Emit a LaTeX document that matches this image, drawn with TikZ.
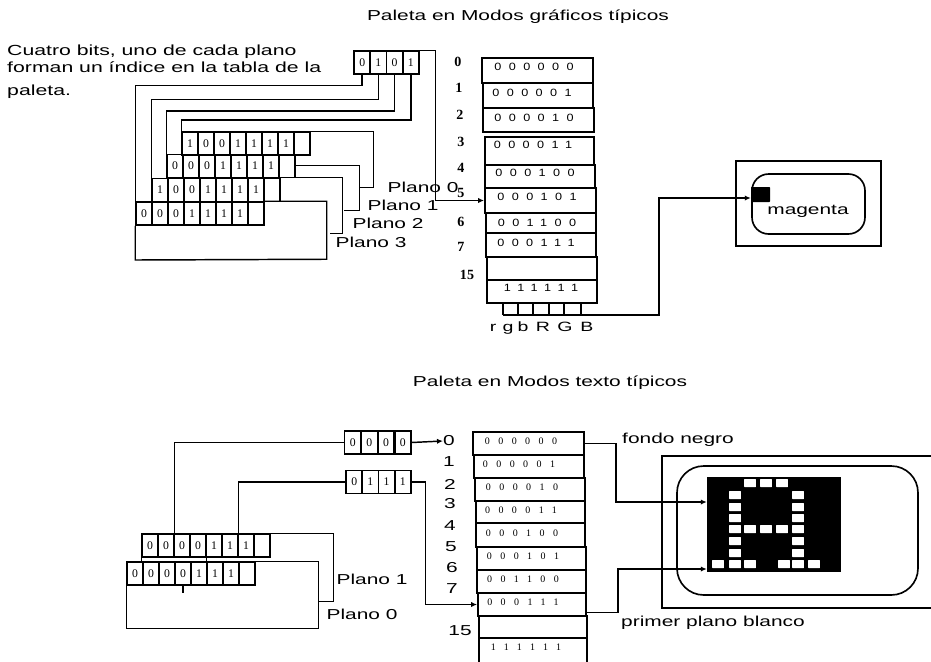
\documentclass[tikz,border=0pt]{standalone}
\usepackage{fontspec}
\setmainfont[FakeStretch=1.45]{Liberation Sans}
\newfontfamily\serifbits[LetterSpace=85]{Liberation Serif}
\newfontfamily\sansbits[LetterSpace=70,FakeStretch=1.2]{Liberation Sans}
\newfontfamily\regbits{Liberation Serif}
\usepackage{tikz}
\usetikzlibrary{arrows.meta}
\begin{document}
\begin{tikzpicture}[
  x=0.3mm,y=-0.3mm,
  font=\fontsize{12.3pt}{14pt}\selectfont,
  wire/.style={line width=1.25pt},
  feed/.style={line width=1.25pt,-{Latex[length=1.8mm,width=1.6mm]}},
  bit/.style={draw,line width=1.3pt,minimum width=4.8mm,minimum height=6.9mm,inner sep=0pt,font=\regbits\fontsize{10pt}{10pt}\selectfont},
  cell/.style={draw,line width=1.6pt,inner sep=0pt},
  tag/.style={inner sep=0pt,font=\fontsize{12.3pt}{14pt}\selectfont},
  idxs/.style={inner sep=0pt,font=\regbits\bfseries\fontsize{12pt}{12pt}\selectfont},
  pxl/.style={fill=white,rounded corners=0.3pt,minimum width=3.5mm,minimum height=2.4mm,inner sep=0pt}]
\useasboundingbox (0,0) rectangle (931,661);

\node[tag] (title1) at (518,17) {Paleta en Modos gráficos típicos};
\node[tag] (title2) at (550,383) {Paleta en Modos texto típicos};
\node[tag,anchor=north west,align=left,font=\fontsize{12.5pt}{14.5pt}\selectfont] (note) at (7,45) {Cuatro bits, uno de cada plano\\forman un índice en la tabla de la\\[5pt]paleta.};

% registro de la parte grafica
\foreach \i/\b in {1/0,2/1,3/0,4/1} \node[bit] (sel\i) at ({346+16.2*\i},62.5) {\b};

% cuatro planos
\foreach \i/\b in {1/1,2/0,3/0,4/1,5/1,6/1,7/1,8/{}} \node[bit] (pa\i) at ({174+16*\i},143.5) {\b};
\foreach \i/\b in {1/0,2/0,3/0,4/1,5/1,6/1,7/1,8/{}} \node[bit] (pb\i) at ({159+16*\i},166) {\b};
\foreach \i/\b in {1/1,2/0,3/0,4/1,5/1,6/1,7/1,8/{}} \node[bit] (pc\i) at ({144+16*\i},190) {\b};
\foreach \i/\b in {1/0,2/0,3/0,4/1,5/1,6/1,7/1,8/{}} \node[bit] (pd\i) at ({128+16*\i},213.5) {\b};

\draw[wire] (sel1.south) -- ++(0,11) -| (pd1.south west);
\draw[wire] (sel2.south) -- ++(0,25) -| (pc1.north west);
\draw[wire] (sel3.south) -- ++(0,36) -| (pb1.north west);
\draw[wire] (sel4.south) -- ++(0,45) -| (pa1.north west);

\draw[wire] (pa8.north east) -- ++(63,0) -- ++(0,56) -- ++(-14,0) coordinate (enda);
\draw[wire] (pb8.north east) ++(0,12) -- ++(64,0) -- ++(0,45) -- ++(-16,0) coordinate (endb);
\draw[wire] (pc8.north east) -- ++(62,0) -- ++(0,56) -- ++(-13,0) coordinate (endc);
\draw[wire] (pd8.north east) -- ++(62,0) -- ++(0,58) -- (pd1.west |- 0,260) -- (pd1.south west);

\node[tag] (pl0) at (423,187) {Plano 0};
\node[tag] (pl1) at (403,205) {Plano 1};
\node[tag] (pl2) at (388,223) {Plano 2};
\node[tag] (pl3) at (371,242) {Plano 3};

% paleta superior
\foreach \i/\l/\t/\r/\d/\tx/\ty/\v in {
  0/482/58/593/83/534/67/000000,1/483/83/593/108/532/93/000001,2/483/108/594/132/534/118/000010,
  3/485/137/594/165/533/145/000011,4/485/165/595/188/535/173/000100,5/485/188/596/213/537/197/000101,
  6/486/213/596/233/537/223/001100,7/486/233/596/257/536/243/000111,8/487/257/597/280/542/268/{},
  9/487/280/597/303/541/288/111111}{
  \node[cell,minimum width={(\r-\l)*0.3mm},minimum height={(\d-\t)*0.3mm}] (pal\i) at ({(\l+\r)/2},{(\t+\d)/2}) {};
  \node[inner sep=0pt,font=\sansbits\fontsize{9pt}{10pt}\selectfont] (palv\i) at (\tx,\ty) {\v};
}
\foreach \i/\xp/\yp/\n in {0/458/62/0,1/459/88/1,2/460/115/2,3/461/142/3,4/461/168/4,5/461/193/5,6/461/222/6,7/461/247/7,15/467/275/15}
  \node[idxs] (idx\i) at (\xp,\yp) {\n};

\draw[feed] (sel4.north east) -- ++(16,0) |- (pal5.west);

% salidas de color
\foreach \i/\xp/\lx/\n in {1/503/493/r,2/518/508/g,3/533/523/b,4/549/543/R,5/564/565/G,6/581/587/B}{
  \coordinate (out\i) at (\xp,303);
  \node[inner sep=0pt,anchor=base,font=\fontsize{11.5pt}{12pt}\selectfont] (rgb\i) at (\lx,331) {\n};
  \draw[wire,line width=1.6pt] (out\i) -- ++(0,12);
}
\draw[wire,line width=1.6pt] (out1) ++(0,12) -- ++(78,0);

% pantalla de arriba
\node[draw,line width=1.4pt,minimum width=43.5mm,minimum height=25.5mm] (mon) at (808.5,203.5) {};
\node[draw,line width=1.4pt,rounded corners=5mm,minimum width=33.9mm,minimum height=18mm] (scr) at (808.5,204) {};
\node[fill=black,rounded corners=0.5pt,minimum width=5.7mm,minimum height=4.5mm,inner sep=0pt] (dot) at (760.5,194.5) {};
\node[tag] (mag) at (808,211) {magenta};
\coordinate (dotin) at (dot.west |- 0,198);
\draw[feed] (out6) ++(0,12) -- ++(78,0) |- (dotin);

% parte de texto
\foreach \i/\b in {1/0,2/0,3/0,4/0} \node[bit] (regf\i) at ({336+16.7*\i},442.5) {\b};
\foreach \i/\b in {1/0,2/1,3/1,4/1} \node[bit] (regc\i) at ({338+16.2*\i},482) {\b};
\foreach \i/\b in {1/0,2/0,3/0,4/0,5/1,6/1,7/1,8/{}} \node[bit] (qa\i) at ({134+16*\i},545.5) {\b};
\foreach \i/\b in {1/0,2/0,3/0,4/0,5/1,6/1,7/1,8/{}} \node[bit] (qb\i) at ({119+16*\i},573.5) {\b};

\draw[wire] (regf1.west) -| (qa2.north east);
\draw[wire] (regc1.west) -| (qa6.north east);
\draw[wire] (qa8.north east) -- ++(63,0) -- ++(0,68) -- ++(-15,0) coordinate (endq);
\draw[wire] (qa1.south west) -- (qa1.west |- qb1.north) -| (qb8.north east) -- ++(63,0) -- ++(0,67) -| (qb1.south west);
\draw[wire] (qa4.south east) -- ++(0,5);
\draw[wire] (qb4.south) -- ++(0,7);

\node[tag] (qp1) at (372,579) {Plano 1};
\node[tag] (qp0) at (362,614) {Plano 0};

% paleta inferior
\foreach \i/\l/\t/\r/\d/\tx/\ty/\v in {
  0/473/432/584/455/521/441/000000,1/474/455/584/478/519/464/000001,2/475/478/585/501/522/487/000010,
  3/476/501/585/523/521/510/000011,4/476/523/585/547/522/533/000100,5/477/547/586/570/523/556/000101,
  6/477/570/586/593/523/579/001100,7/478/593/586/616/523/602/000111,8/479/616/587/638/530/627/{},
  9/479/638/587/664/526/647/111111}{
  \node[cell,minimum width={(\r-\l)*0.3mm},minimum height={(\d-\t)*0.3mm}] (tab\i) at ({(\l+\r)/2},{(\t+\d)/2}) {};
  \node[inner sep=0pt,font=\serifbits\fontsize{8.5pt}{10pt}\selectfont] (tabv\i) at (\tx,\ty) {\v};
}
\foreach \i/\xp/\yp/\n in {0/449/441/0,1/449/462/1,2/450/484/2,3/450/504/3,4/450/526/4,5/451/547/5,6/452/568/6,7/452/589/7,15/460/631/15}
  \node[tag] (idt\i) at (\xp,\yp) {\n};

\draw[feed] (regf4.east) -- (idt0.west);
\draw[feed] (regc4.east) -- ++(14,0) |- (tab7.west);

\node[tag,anchor=west] (fon) at (622,440) {fondo negro};
\node[tag,anchor=west] (pri) at (621,623) {primer plano blanco};

% pantalla de abajo
\coordinate (open1) at (931,456);
\coordinate (open2) at (931,608);
\draw[line width=1.2pt] (open1) -- (662,456) -- (662,608) -- (open2);
\node[draw,line width=1.4pt,rounded corners=8mm,minimum width=72.3mm,minimum height=38.7mm] (txt) at (797.5,530.5) {};
\node[fill=black,minimum width=40.2mm,minimum height=28.5mm,inner sep=0pt] (gly) at (774,524.5) {};
\foreach \cx/\cy in {750/483,766/483,782/483,735/495,798/495,735/507,798/507,735/518,798/518,
  735/529,750/529,766/529,782/529,798/529,735/541,798/541,735/553,798/553,
  718/564,735/564,750/564,784/564,798/564,814/564}
  \node[pxl] (px\cx\cy) at (\cx,\cy) {};

\coordinate (fdin) at (gly.west |- 0,502);
\coordinate (ppin) at (gly.west |- 0,569);
\draw[feed] (tab0.east) -- ++(31,0) |- (fdin);
\draw[feed] (tab7.east) ++(0,8) -- ++(31,0) |- (ppin);
\end{tikzpicture}
\end{document}
